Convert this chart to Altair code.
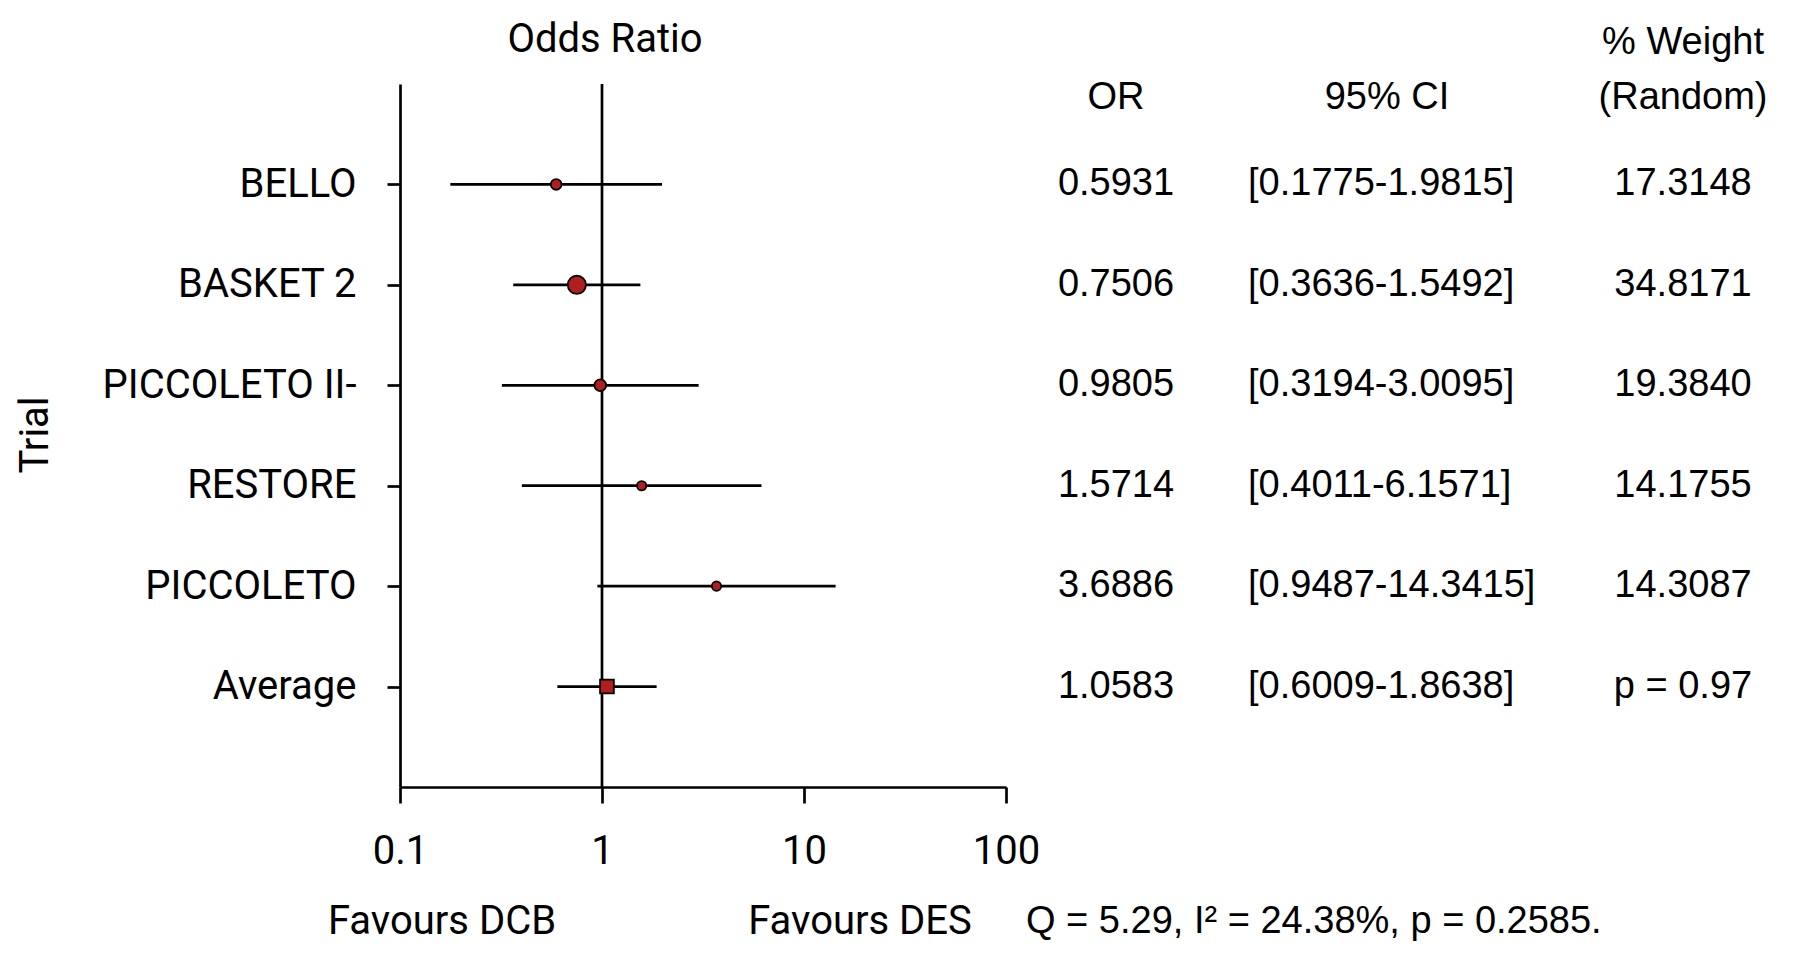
import altair as alt
import pandas as pd

# ---- data ----
trials = ["BELLO", "BASKET 2", "PICCOLETO II-", "RESTORE", "PICCOLETO", "Average"]
odds_ratio = [0.5931, 0.7506, 0.9805, 1.5714, 3.6886, 1.0583]
ci_low = [0.1775, 0.3636, 0.3194, 0.4011, 0.9487, 0.6009]
ci_high = [1.9815, 1.5492, 3.0095, 6.1571, 14.3415, 1.8638]
weights = [17.3148, 34.8171, 19.3840, 14.1755, 14.3087]
pooled_p_label = "p = 0.97"
x_ticks = [0.1, 1, 10, 100]
stats_note = "Q = 5.29, I\u00b2 = 24.38%, p = 0.2585."
left_note = "Favours DCB"
right_note = "Favours DES"

NARROW = "Roboto"
NSIZE = 40
REG = "Liberation Sans"
RED = "#B01E1E"

n = len(trials)
rows = list(range(1, n + 1))
weight_text = [f"{w:.4f}" for w in weights] + [pooled_p_label]
df = pd.DataFrame({
    "trial": trials,
    "row": rows,
    "or": odds_ratio,
    "lo": ci_low,
    "hi": ci_high,
    "weight": weights + [None],
    "or_txt": [f"{v:.4f}" for v in odds_ratio],
    "ci_txt": [f"[{a:.4f}-{b:.4f}]" for a, b in zip(ci_low, ci_high)],
    "w_txt": weight_text,
    "kind": ["study"] * (n - 1) + ["pooled"],
})

label_array = "[" + ",".join("'" + t + "'" for t in trials) + "]"

xscale = alt.Scale(type="log", domain=[0.1, 100])
yscale = alt.Scale(domain=[0, n + 1], reverse=True)

x_axis = alt.Axis(values=x_ticks, format="~g", title=None, grid=False,
                  tickSize=16, labelPadding=28, labelFont=NARROW, labelFontSize=NSIZE,
                  labelColor="black", domainColor="black", tickColor="black",
                  domainWidth=2.7, tickWidth=2.7, labelFlush=False, labelLimit=400)
y_axis = alt.Axis(values=rows, labelExpr=label_array + "[datum.value-1]", title=None,
                  grid=False, tickSize=13, labelPadding=31, labelFont=NARROW,
                  labelFontSize=NSIZE, labelColor="black", domainColor="black",
                  tickColor="black", domainWidth=2.7, tickWidth=2.7, labelLimit=400)

base = alt.Chart(df)

null_line = alt.Chart(pd.DataFrame({"x": [1], "y0": [0], "y1": [n + 1]})).mark_rule(
    color="black", strokeWidth=2.7).encode(
    x=alt.X("x:Q", scale=xscale, axis=x_axis),
    y=alt.Y("y0:Q", scale=yscale, axis=y_axis),
    y2="y1:Q",
)

ci = base.mark_rule(color="black", strokeWidth=2.7).encode(
    x=alt.X("lo:Q", scale=xscale, axis=x_axis),
    x2="hi:Q",
    y=alt.Y("row:Q", scale=yscale, axis=y_axis),
)

dots = base.transform_filter(alt.datum.kind == "study").mark_point(
    shape="circle", filled=True, fill=RED, stroke="black", strokeWidth=1.8, opacity=1
).encode(
    x=alt.X("or:Q", scale=xscale, axis=x_axis),
    y=alt.Y("row:Q", scale=yscale, axis=y_axis),
    size=alt.Size("weight:Q", scale=alt.Scale(type="pow", exponent=1.5, domain=[0, 34.8171],
                                              range=[0, 331]), legend=None),
)

pooled = base.transform_filter(alt.datum.kind == "pooled").mark_point(
    shape="square", filled=True, fill=RED, stroke="black", strokeWidth=1.8, size=190, opacity=1
).encode(
    x=alt.X("or:Q", scale=xscale, axis=x_axis),
    y=alt.Y("row:Q", scale=yscale, axis=y_axis),
)

def col_text(field, xpix, align):
    return base.mark_text(font=REG, fontSize=38, align=align, baseline="middle",
                          color="black").encode(
        x=alt.value(xpix),
        y=alt.Y("row:Q", scale=yscale, axis=y_axis),
        text=f"{field}:N",
    )

or_col = col_text("or_txt", 716, "center")
ci_col = col_text("ci_txt", 848, "left")
w_col = col_text("w_txt", 1283, "center")

def label(txt, xpix, ypix, font=REG, size=38, align="center", angle=0):
    kw = dict(font=font, fontSize=size, align=align, baseline="middle", color="black", text=txt)
    if angle:
        kw["angle"] = angle
    return alt.Chart(pd.DataFrame({"a": [0]})).mark_text(**kw).encode(
        x=alt.value(xpix), y=alt.value(ypix))

labels = [
    label("Odds Ratio", 205, -44, font=NARROW, size=NSIZE),
    label("OR", 716, 14),
    label("95% CI", 987, 14),
    label("% Weight", 1283, -41),
    label("(Random)", 1283, 14),
    label(left_note, 42, 838, font=NARROW, size=NSIZE),
    label(right_note, 460, 838, font=NARROW, size=NSIZE),
    label(stats_note, 626, 838, align="left"),
    label("Trial", -364, 351, font=NARROW, size=NSIZE, angle=270),
]

chart = alt.layer(null_line, ci, dots, pooled, or_col, ci_col, w_col, *labels).properties(
    width=606, height=703,
    autosize=alt.AutoSizeParams(type="none"),
    padding={"left": 392, "top": 76, "right": 770, "bottom": 168},
).configure_view(stroke=None)

chart.save("out.html", embed_options={"renderer": "svg", "actions": False})
